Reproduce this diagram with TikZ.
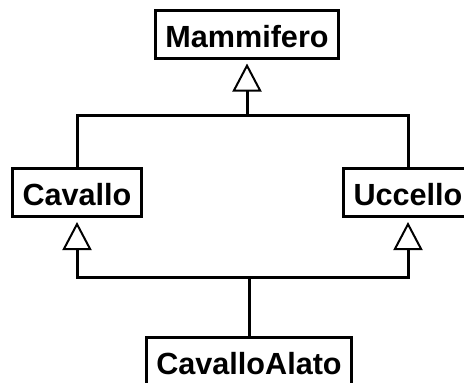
\documentclass[tikz,border=0pt]{standalone}
\usepackage{fontspec}
\setmainfont{Liberation Sans}
\usetikzlibrary{arrows.meta}
\begin{document}
\begin{tikzpicture}[x=1pt, y=-1pt,
    classbox/.style={draw, line width=3pt, fill=white, inner xsep=10pt, inner ysep=3pt,
      text height=34pt, text depth=8pt, font=\fontsize{30.6}{34}\selectfont\bfseries},
    isa/.style={line width=3pt, shorten >=4pt,
      -{Triangle[length=28pt, width=29pt, fill=white, line width=2pt]}}]
      \clip (0,0) rectangle (464,383);
      \fill[white] (0,0) rectangle (464,383);

	\node[classbox] (mammifero) at (247,34) {Mammifero};
	\node[classbox] (cavallo) at (77,192.5) {Cavallo};
	\node[classbox] (uccello) at (408,192.5) {Uccello};
	\node[classbox] (alato) at (249,361) {CavalloAlato};

	\coordinate (topbar) at (247,115);
	\coordinate (midbar) at (249,277);

	\draw[line width=3pt] (cavallo.north) |- (topbar);
	\draw[line width=3pt] (uccello.north) |- (topbar);
	\draw[isa] (topbar) -- (mammifero.south);

	\draw[isa] (alato.north) -- (midbar) -| (cavallo.south);
	\draw[isa] (alato.north) -- (midbar) -| (uccello.south);
\end{tikzpicture}
\end{document}
